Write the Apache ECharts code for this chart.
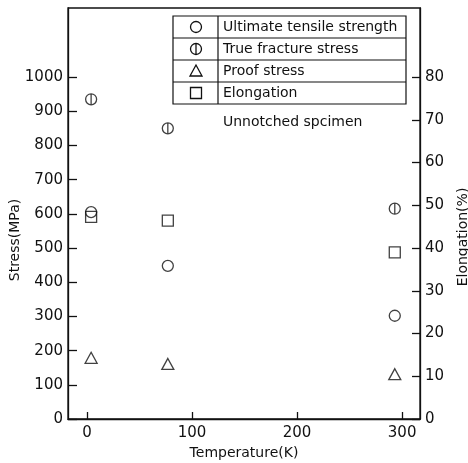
<!DOCTYPE html>
<html>
<head>
<meta charset="utf-8">
<script src="https://cdn.jsdelivr.net/npm/echarts@6/dist/echarts.min.js"></script>
<style>
  html, body { margin: 0; padding: 0; background: #fff; }
  #chart { width: 468px; height: 463px; }
</style>
</head>
<body>
<div id="chart"></div>
<script>
// Test temperatures (K)
const temperatures = [4, 77, 293];
// Stress values (MPa)
const ultimateTensile = [605, 448, 302];
const trueFracture = [935, 850, 615];
const proofStress = [179, 161, 131];
// Elongation (%)
const elongation = [47.3, 46.4, 39.0];

const xTicks = [0, 100, 200, 300];
const stressTicks = [0, 100, 200, 300, 400, 500, 600, 700, 800, 900, 1000];
const elongTicks = [0, 10, 20, 30, 40, 50, 60, 70, 80];

const legendNames = ['Ultimate tensile strength', 'True fracture stress', 'Proof stress', 'Elongation'];
const noteText = 'Unnotched spcimen';
const stressTitle = 'Stress(MPa)';
const elongTitle = 'Elongation(%)';

const FONT = 'DejaVu Sans';
const INK = '#111';

const pair = (xs, ys) => xs.map((x, i) => [x, ys[i]]);
const circleBar = 'path://M10,0 A10,10 0 1,1 10,20 A10,10 0 1,1 10,0 Z M10,0 L10,20';
const plain = v => String(v);

const markerStyle = { color: 'rgba(0,0,0,0)', borderColor: INK, borderWidth: 1.3 };

const chart = echarts.init(document.getElementById('chart'), null, { renderer: 'canvas' });

// Legend drawn as a ruled table
const lg = { left: 173, right: 406, top: 16, rowH: 22, divX: 218 };
const legendGraphics = [];
legendGraphics.push({
  type: 'rect', shape: { x: lg.left, y: lg.top, width: lg.right - lg.left, height: lg.rowH * 4 },
  style: { fill: '#fff', stroke: INK, lineWidth: 1.2 }, z: 10
});
legendGraphics.push({
  type: 'line', shape: { x1: lg.divX, y1: lg.top, x2: lg.divX, y2: lg.top + lg.rowH * 4 },
  style: { stroke: INK, lineWidth: 1.2 }, z: 11
});
for (let i = 1; i < 4; i++) {
  legendGraphics.push({
    type: 'line', shape: { x1: lg.left, y1: lg.top + lg.rowH * i, x2: lg.right, y2: lg.top + lg.rowH * i },
    style: { stroke: INK, lineWidth: 1.2 }, z: 11
  });
}
const symX = 196;
legendNames.forEach((name, i) => {
  const cy = lg.top + lg.rowH * i + lg.rowH / 2;
  legendGraphics.push({
    type: 'text', x: 223, y: cy,
    style: { text: name, font: '14px "' + FONT + '"', fill: INK, textVerticalAlign: 'middle', textAlign: 'left' },
    z: 12
  });
  const sty = { fill: 'none', stroke: INK, lineWidth: 1.3 };
  if (i === 0) {
    legendGraphics.push({ type: 'circle', shape: { cx: symX, cy: cy, r: 5.5 }, style: sty, z: 12 });
  } else if (i === 1) {
    legendGraphics.push({ type: 'circle', shape: { cx: symX, cy: cy, r: 5.5 }, style: sty, z: 12 });
    legendGraphics.push({ type: 'line', shape: { x1: symX, y1: cy - 5.5, x2: symX, y2: cy + 5.5 }, style: sty, z: 12 });
  } else if (i === 2) {
    legendGraphics.push({ type: 'polygon', shape: { points: [[symX, cy - 6], [symX - 6, cy + 5], [symX + 6, cy + 5]] }, style: sty, z: 12 });
  } else {
    legendGraphics.push({ type: 'rect', shape: { x: symX - 5.5, y: cy - 5.5, width: 11, height: 11 }, style: sty, z: 12 });
  }
});
legendGraphics.push({
  type: 'text', x: 223, y: 122,
  style: { text: noteText, font: '14px "' + FONT + '"', fill: INK, textVerticalAlign: 'middle' },
  z: 12
});
// Vertical axis titles
legendGraphics.push({
  type: 'text', x: 15, y: 240, rotation: Math.PI / 2,
  style: { text: stressTitle, font: '14px "' + FONT + '"', fill: INK, textAlign: 'center', textVerticalAlign: 'middle' }
});
legendGraphics.push({
  type: 'text', x: 463, y: 237, rotation: Math.PI / 2,
  style: { text: elongTitle, font: '14px "' + FONT + '"', fill: INK, textAlign: 'center', textVerticalAlign: 'middle' }
});

const option = {
  backgroundColor: '#fff',
  animation: false,
  textStyle: { fontFamily: FONT, color: INK },
  grid: {
    left: 68, right: 48, top: 8, bottom: 44,
    containLabel: false, outerBoundsMode: 'none',
    show: true, borderColor: INK, borderWidth: 1.3, backgroundColor: 'transparent'
  },
  xAxis: {
    type: 'value', min: -18, max: 317,
    name: 'Temperature(K)', nameLocation: 'middle', nameGap: 25,
    nameTextStyle: { fontFamily: FONT, fontSize: 14, color: INK },
    axisLine: { show: true, onZero: false, lineStyle: { color: INK, width: 1.3 } },
    axisTick: { show: true, inside: true, length: 7, customValues: xTicks, lineStyle: { color: INK, width: 1.3 } },
    axisLabel: { customValues: xTicks, formatter: plain, fontFamily: FONT, fontSize: 15, color: INK, margin: 7 },
    splitLine: { show: false }
  },
  yAxis: [
    {
      type: 'value', min: 0, max: 1202, position: 'left',
      axisLine: { show: true, onZero: false, lineStyle: { color: INK, width: 1.3 } },
      axisTick: { show: true, inside: true, length: 9, customValues: stressTicks, lineStyle: { color: INK, width: 1.3 } },
      axisLabel: { customValues: stressTicks, formatter: plain, fontFamily: FONT, fontSize: 15, color: INK, margin: 5 },
      splitLine: { show: false }
    },
    {
      type: 'value', min: 0, max: 1202 / 12.5, position: 'right',
      axisLine: { show: true, onZero: false, lineStyle: { color: INK, width: 1.3 } },
      axisTick: { show: true, inside: true, length: 8, customValues: elongTicks, lineStyle: { color: INK, width: 1.3 } },
      axisLabel: { customValues: elongTicks, formatter: plain, fontFamily: FONT, fontSize: 15, color: INK, margin: 5 },
      splitLine: { show: false }
    }
  ],
  series: [
    {
      name: legendNames[0], type: 'scatter', yAxisIndex: 0,
      symbol: 'circle', symbolSize: 11, itemStyle: markerStyle,
      data: pair(temperatures, ultimateTensile)
    },
    {
      name: legendNames[1], type: 'scatter', yAxisIndex: 0,
      symbol: circleBar, symbolSize: 11, itemStyle: markerStyle,
      data: pair(temperatures, trueFracture)
    },
    {
      name: legendNames[2], type: 'scatter', yAxisIndex: 0,
      symbol: 'triangle', symbolSize: [12, 11], itemStyle: markerStyle,
      data: pair(temperatures, proofStress)
    },
    {
      name: legendNames[3], type: 'scatter', yAxisIndex: 1,
      symbol: 'rect', symbolSize: 11, itemStyle: markerStyle,
      data: pair(temperatures, elongation)
    }
  ],
  graphic: legendGraphics
};

chart.setOption(option);
</script>
</body>
</html>
